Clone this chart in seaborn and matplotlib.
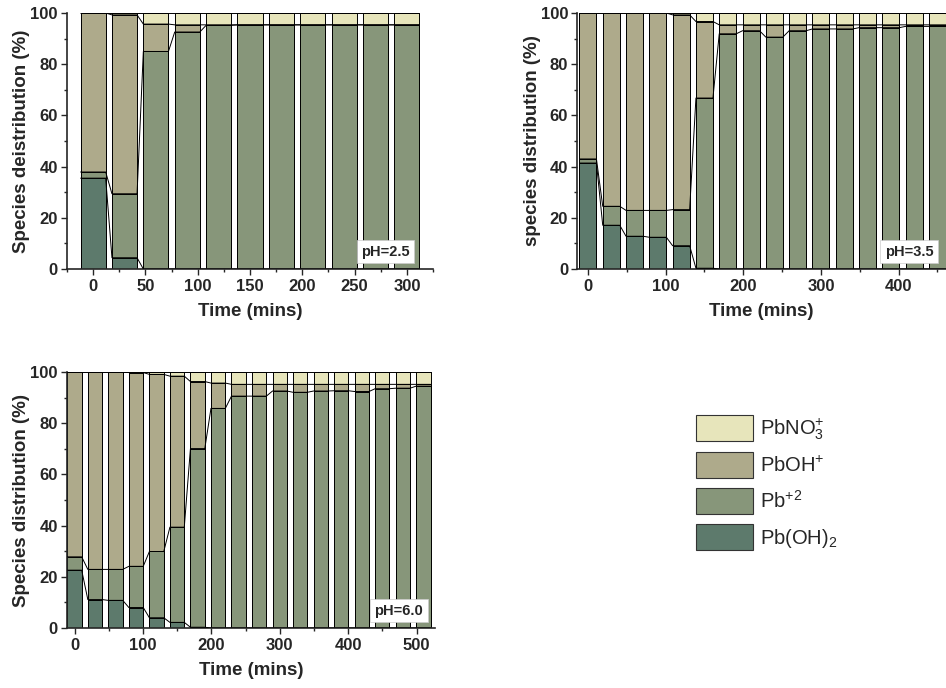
import numpy as np
import pandas as pd
import matplotlib
matplotlib.use('Agg')
import matplotlib.pyplot as plt
from matplotlib.patches import Patch
from matplotlib.ticker import MultipleLocator
import seaborn as sns

# ===== data (% of Pb species vs time) =====
time_25 = [0, 30, 60, 90, 120, 150, 180, 210, 240, 270, 300]
oh2_25 = [35.5, 4.4, 0, 0, 0, 0, 0, 0, 0, 0, 0]
pb2_25 = [2.4, 25.0, 85.0, 92.6, 95.2, 95.4, 95.4, 95.4, 95.4, 95.4, 95.4]
pboh_25 = [62.1, 69.9, 10.7, 2.8, 0.2, 0, 0, 0, 0, 0, 0]
no3_25 = [0, 0.7, 4.3, 4.6, 4.6, 4.6, 4.6, 4.6, 4.6, 4.6, 4.6]

time_35 = [0, 30, 60, 90, 120, 150, 180, 210, 240, 270, 300, 330, 360, 390, 420, 450]
oh2_35 = [41.4, 17.1, 12.8, 12.4, 9.1, 0.3, 0, 0, 0, 0, 0, 0, 0, 0, 0, 0]
pb2_35 = [1.6, 7.4, 10.1, 10.5, 14.1, 66.5, 91.9, 93.1, 90.6, 93.1, 93.8, 93.8, 94.3, 94.3, 94.8, 94.8]
pboh_35 = [57.0, 75.4, 77.1, 77.1, 76.1, 29.9, 3.5, 2.3, 4.8, 2.3, 1.6, 1.6, 1.1, 1.1, 0.6, 0.6]
no3_35 = [0, 0.1, 0, 0, 0.7, 3.3, 4.6, 4.6, 4.6, 4.6, 4.6, 4.6, 4.6, 4.6, 4.6, 4.6]

time_60 = [0, 30, 60, 90, 120, 150, 180, 210, 240, 270, 300, 330, 360, 390, 420, 450, 480, 510]
oh2_60 = [22.6, 11.1, 10.8, 8.0, 4.0, 2.2, 0.3, 0, 0, 0, 0, 0, 0, 0, 0, 0, 0, 0]
pb2_60 = [5.2, 11.8, 12.1, 16.1, 25.9, 37.2, 69.8, 85.8, 90.6, 90.6, 92.6, 92.1, 92.6, 92.7, 92.4, 93.5, 93.7, 94.5]
pboh_60 = [72.2, 77.1, 77.1, 75.7, 69.2, 59.0, 26.2, 9.9, 4.6, 4.6, 2.6, 3.1, 2.6, 2.5, 2.8, 1.7, 1.5, 0.7]
no3_60 = [0, 0, 0, 0.2, 0.9, 1.6, 3.7, 4.3, 4.8, 4.8, 4.8, 4.8, 4.8, 4.8, 4.8, 4.8, 4.8, 4.8]

species = [r'Pb(OH)$_2$', r'Pb$^{+2}$', r'PbOH$^{+}$', r'PbNO$_3^{+}$']
colors = ['#5d7a6c', '#87967a', '#aeaa8b', '#e7e5bb']

# ===== style =====
sns.set_style('ticks')
plt.rcParams['font.family'] = ['Liberation Sans', 'DejaVu Sans']
plt.rcParams['mathtext.default'] = 'regular'
plt.rcParams['xtick.direction'] = 'out'
plt.rcParams['ytick.direction'] = 'out'

fig = plt.figure(figsize=(9.46, 6.88), dpi=100)

panels = [
    dict(t=time_25, vals=[oh2_25, pb2_25, pboh_25, no3_25], pos=[0.0708, 0.609, 0.387, 0.372],
         width=0.8, xlim=(-25, 325), xmaj=50, xmin=25, ylabel='Species deistribution (%)',
         ph='pH=2.5', phx=0.937),
    dict(t=time_35, vals=[oh2_35, pb2_35, pboh_35, no3_35], pos=[0.61, 0.609, 0.39, 0.372],
         width=0.73, xlim=(-14, 461), xmaj=100, xmin=50, ylabel='species distribution (%)',
         ph='pH=3.5', phx=0.966),
    dict(t=time_60, vals=[oh2_60, pb2_60, pboh_60, no3_60], pos=[0.0708, 0.0872, 0.389, 0.372],
         width=0.7, xlim=(-11, 527), xmaj=100, xmin=50, ylabel='Species distribution (%)',
         ph='pH=6.0', phx=0.968),
]

for p in panels:
    ax = fig.add_axes(p['pos'])
    t = np.array(p['t'], dtype=float)
    cum = np.cumsum(np.array(p['vals']), axis=0)
    df = pd.DataFrame({'time': t})
    for k in range(4):
        df[f'c{k}'] = cum[k]
    # stacked bars: draw cumulative totals from the top species down
    for k in range(3, -1, -1):
        sns.barplot(data=df, x='time', y=f'c{k}', color=colors[k], saturation=1,
                    native_scale=True, width=p['width'], edgecolor='black',
                    linewidth=0.7, errorbar=None, ax=ax)
    # connecting lines between bar segments
    w = p['width'] * 30
    xs = np.ravel(np.column_stack([t - w / 2, t + w / 2]))
    for k in range(4):
        ys = np.repeat(cum[k], 2)
        ax.plot(xs, ys, color='black', lw=0.7, zorder=5)

    ax.set_xlim(*p['xlim'])
    ax.set_ylim(0, 100)
    ax.xaxis.set_major_locator(MultipleLocator(p['xmaj']))
    ax.xaxis.set_minor_locator(MultipleLocator(p['xmin']))
    ax.yaxis.set_major_locator(MultipleLocator(20))
    ax.yaxis.set_minor_locator(MultipleLocator(10))
    ax.tick_params(which='major', length=4, width=1, labelsize=12)
    ax.tick_params(which='minor', length=2.5, width=1)
    ax.tick_params(axis='y', pad=2.5)
    for lab in ax.get_xticklabels() + ax.get_yticklabels():
        lab.set_fontweight('bold')
    ax.set_xlabel('Time (mins)', fontsize=13.5, fontweight='bold', labelpad=6)
    ax.set_ylabel(p['ylabel'], fontsize=13.5, fontweight='bold', labelpad=0)
    sns.despine(ax=ax)
    for s in ['left', 'bottom']:
        ax.spines[s].set_linewidth(1.2)
    ax.text(p['phx'], 0.04, p['ph'], transform=ax.transAxes, ha='right', va='bottom',
            fontsize=10.5, fontweight='bold', zorder=10,
            bbox=dict(boxstyle='square,pad=0.3', facecolor='white', edgecolor='#cccccc', lw=0.5))

handles = [Patch(facecolor=colors[k], edgecolor='#333333', lw=0.8) for k in range(3, -1, -1)]
labels = [species[k] for k in range(3, -1, -1)]
fig.legend(handles, labels, loc='upper left', bbox_to_anchor=(0.7276, 0.408),
           frameon=False, fontsize=14.5, handlelength=2.8, handleheight=1.6,
           labelspacing=0.5, handletextpad=0.35, borderaxespad=0)

fig.savefig('out.png', dpi=100)
